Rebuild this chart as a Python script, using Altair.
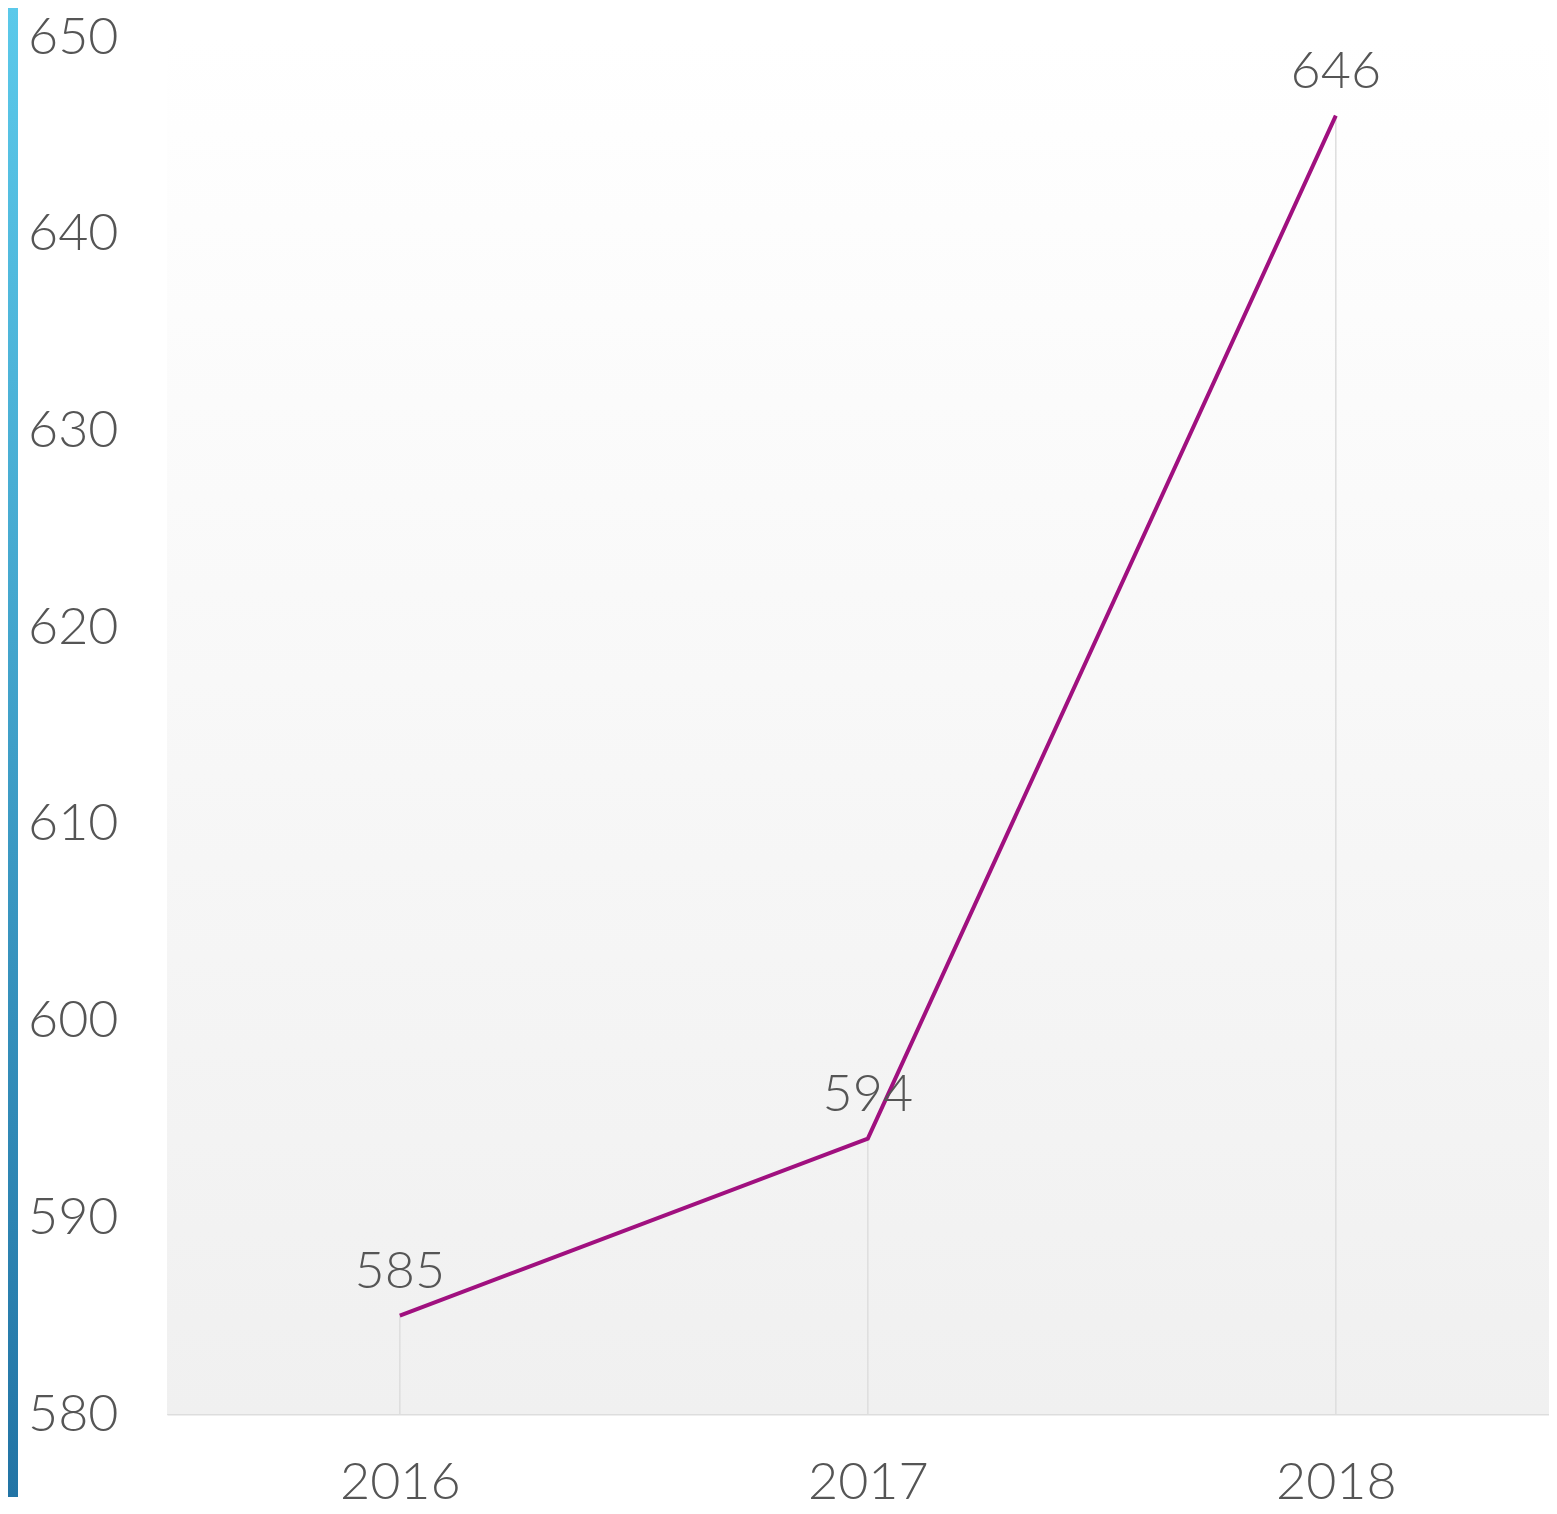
import altair as alt
import pandas as pd

years = ["2016", "2017", "2018"]
values = [585, 594, 646]
y_ticks = [580, 590, 600, 610, 620, 630, 640, 650]

df = pd.DataFrame({"year": years, "value": values, "base": [580] * len(years)})
one = pd.DataFrame({"a": [0]})

W, H = 1382, 1377
FONT = "Lato"
TXT = "#555555"
FS = 52

x_enc = alt.X(
    "year:N",
    sort=years,
    scale=alt.Scale(type="point", padding=0.4765, align=0.522),
    axis=alt.Axis(
        title=None, labelAngle=0, ticks=False, tickSize=0, domain=True,
        domainColor="#dddddd", domainWidth=2, labelFontSize=FS, labelColor=TXT,
        labelPadding=43, grid=False, labelFont=FONT, labelFontWeight=300,
    ),
)
y_enc = alt.Y(
    "value:Q",
    scale=alt.Scale(domain=[580, 650], nice=False, zero=False),
    axis=alt.Axis(
        title=None, values=y_ticks, ticks=False, tickSize=0, domain=False, grid=False,
        labelFontSize=FS, labelColor=TXT, labelFont=FONT, labelAlign="right",
        labelBaseline="middle", labelPadding=49, labelFontWeight=300,
    ),
)

blue_grad = alt.Gradient(
    gradient="linear",
    stops=[alt.GradientStop(color="#5bc9ea", offset=0), alt.GradientStop(color="#2274a5", offset=1)],
    x1=0, x2=0, y1=0, y2=1,
)
gray_grad = alt.Gradient(
    gradient="linear",
    stops=[alt.GradientStop(color="#ffffff", offset=0), alt.GradientStop(color="#f0f0f0", offset=1)],
    x1=0, x2=0, y1=0, y2=1,
)

bar = alt.Chart(one).mark_rect(color=blue_grad).encode(
    x=alt.value(-159), x2=alt.value(-149), y=alt.value(-29), y2=alt.value(1460)
)
bg = alt.Chart(one).mark_rect(color=gray_grad).encode(
    x=alt.value(0), x2=alt.value(W), y=alt.value(0), y2=alt.value(H)
)

base = alt.Chart(df).encode(x=x_enc, y=y_enc)
drops = base.mark_rule(color="#dddddd", strokeWidth=1.5).encode(y2="base:Q")
line = base.mark_line(color="#a0107f", strokeWidth=4)
labels = base.mark_text(
    dy=-28, baseline="alphabetic", align="center", fontSize=FS, color=TXT, font=FONT,
    fontWeight=300,
).encode(text="value:Q")

chart = (
    alt.layer(bar, bg, drops, line, labels)
    .properties(width=W, height=H, padding={"left": 0, "top": 0, "right": 0, "bottom": 0})
    .configure_view(stroke=None)
    .configure(background="white")
)

chart.save("out.html", embed_options={"renderer": "svg", "actions": False})
